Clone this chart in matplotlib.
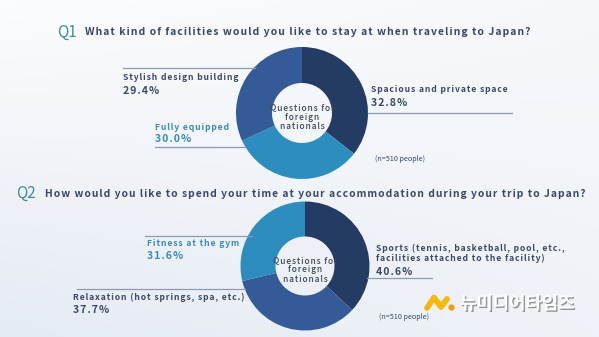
""" Two survey donut charts (accommodation questions for foreign visitors). """

import numpy as np
import matplotlib.pyplot as plt
from matplotlib.colors import LinearSegmentedColormap
import matplotlib.patheffects as pe

# Q1 data (clockwise from 12 o'clock)
q1_title = "What kind of facilities would you like to stay at when traveling to Japan?"
q1_labels = ["Spacious and private space", "Fully equipped", "Stylish design building"]
q1_values = [32.8, 30.0, 29.4]

# Q2 data (clockwise from 12 o'clock)
q2_title = "How would you like to spend your time at your accommodation during your trip to Japan?"
q2_labels = ["Sports (tennis, basketball, pool, etc.,\nfacilities attached to the facility)",
             "Relaxation (hot springs, spa, etc.)",
             "Fitness at the gym"]
q2_values = [40.6, 37.7, 31.6]

center_txt = "Questions for\nforeign\nnationals"
n_txt = "(n=510 people)"

NAVY = "#243b64"
MID = "#355a98"
TEAL = "#2e8dbf"
TXT = "#3a4966"
TEAL_TXT = "#3b8db3"
Q_COL = "#3c8f99"
LINE = "#8d9cb0"

plt.rcParams['font.family'] = ['Noto Sans CJK JP', 'DejaVu Sans']

W, H = 599, 337
fig = plt.figure(figsize=(W / 100, H / 100), dpi=100)
ax = fig.add_axes([0, 0, 1, 1])

# background gradient
gx, gy = np.meshgrid(np.linspace(0, 1, 200), np.linspace(0, 1, 120))
grad = 0.55 * gy + 0.45 * (1 - gx) * gy + 0.25 * gx * (1 - gy)
cmap = LinearSegmentedColormap.from_list("bg", ["#fbfcfd", "#e5ebf4"])
ax.imshow(grad, cmap=cmap, extent=[0, W, H, 0], aspect="auto", zorder=0,
          vmin=0, vmax=1)


def track(s):
    # fake letter spacing with hair spaces (taken from DejaVu Sans)
    return "\n".join("\u200a".join(line) for line in s.split("\n"))


def donut(cx, cy, r, w, values, colors):
    # y axis is inverted: startangle -90 is visually the top, ccw=True is visually clockwise
    ax.pie(values, colors=colors, center=(cx, cy), radius=r, startangle=-90,
           counterclock=True, wedgeprops=dict(width=w, linewidth=0), frame=True)
    ax.text(cx, cy + 4, track(center_txt), ha="center", va="center", fontsize=6.0,
            fontweight="medium", color="#3b465a", linespacing=1.12, zorder=5)


def label(x, y, name, color, size=6.2):
    ax.text(x, y, track(name), ha="left", va="center", fontsize=size,
            fontweight="bold", color=color, linespacing=1.2, zorder=5)


def pct(x, y, val, color):
    ax.text(x, y, track(f"{val:.1f}%"), ha="left", va="center", fontsize=7.6,
            fontweight="bold", color=color, zorder=5)


# ---- Q1
ax.text(57, 32, "Q1", ha="left", va="center", fontsize=11, color=Q_COL)
ax.text(85, 32, track(q1_title), ha="left", va="center", fontsize=7.5,
        fontweight="bold", color=TXT)
donut(302, 113, 66, 36, q1_values, [NAVY, TEAL, MID])

label(371, 90, q1_labels[0], TXT)
pct(371, 103, q1_values[0], TXT)
ax.plot([368, 512], [113, 113], color=LINE, lw=0.9, zorder=3)

label(155, 127, q1_labels[1], TEAL_TXT)
pct(155, 139, q1_values[1], TEAL_TXT)
ax.plot([155, 245], [147, 147], color=LINE, lw=0.9, zorder=1)

label(123, 78, q1_labels[2], TXT)
pct(123, 91, q1_values[2], TXT)
ax.plot([123, 255], [68, 68], color=LINE, lw=0.9, zorder=1)

ax.text(375, 159, n_txt, ha="left", va="center", fontsize=5.2, color=TXT)

# ---- Q2
ax.text(16, 193, "Q2", ha="left", va="center", fontsize=11, color=Q_COL)
ax.text(45, 194, track(q2_title), ha="left", va="center", fontsize=7.42,
        fontweight="bold", color=TXT)
donut(305, 266, 64.5, 35, q2_values, [NAVY, MID, TEAL])

label(376, 253.5, q2_labels[0], TXT)
pct(376, 272, q2_values[0], TXT)
ax.plot([367, 432], [278, 278], color=LINE, lw=0.9, zorder=3)

label(73, 297, q2_labels[1], TXT)
pct(73, 310, q2_values[1], TXT)
ax.plot([77, 245], [289, 289], color=LINE, lw=0.9, zorder=1)

label(147, 243, q2_labels[2], TEAL_TXT)
pct(147, 256, q2_values[2], TEAL_TXT)
ax.plot([145, 252], [236, 236], color=LINE, lw=0.9, zorder=1)

ax.text(379, 317, n_txt, ha="left", va="center", fontsize=5.2, color=TXT)

# watermark logo + name
ax.plot([427, 434, 441, 447], [308, 297.5, 307, 299], color="#f6b80f", lw=4.2,
        solid_capstyle="round", solid_joinstyle="round", zorder=6)
ax.plot([451], [307], "o", color="#f39a10", ms=3.5, zorder=6)
ax.text(460, 304, "뉴미디어타임즈", ha="left", va="center", fontsize=12.8,
        fontweight="bold", color="white", family=["Noto Sans CJK KR", "DejaVu Sans"],
        zorder=6, path_effects=[pe.withSimplePatchShadow(offset=(1, -1),
                                                         shadow_rgbFace="#555555",
                                                         alpha=0.6)])

ax.set_xlim(0, W)
ax.set_ylim(H, 0)
ax.set_aspect("auto")
ax.axis("off")

fig.savefig("out.png", dpi=100)
